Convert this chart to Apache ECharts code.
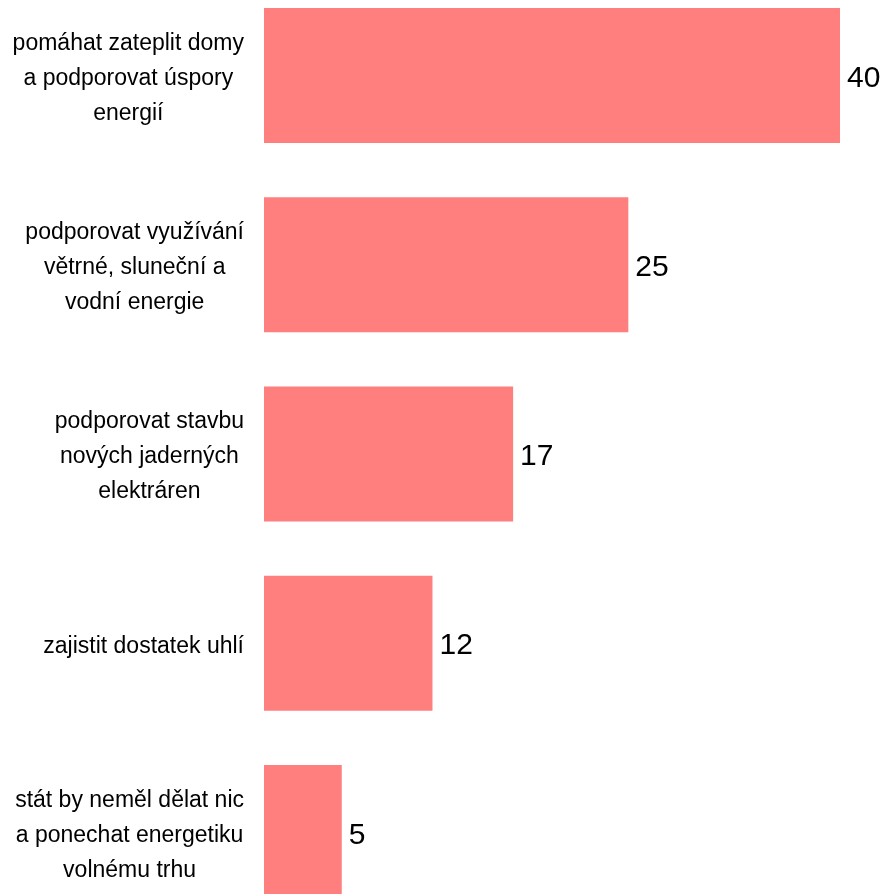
<!DOCTYPE html>
<html>
<head>
<meta charset="utf-8">
<script src="https://cdn.jsdelivr.net/npm/echarts@6/dist/echarts.min.js"></script>
<style>
html,body{margin:0;padding:0;background:#fff;}
#chart{width:884px;height:894px;}
</style>
</head>
<body>
<div id="chart"></div>
<script>
var categories = [
  "pomáhat zateplit domy\na podporovat úspory\nenergií",
  "podporovat využívání\nvětrné, sluneční a\nvodní energie",
  "podporovat stavbu\nnových jaderných\nelektráren",
  "zajistit dostatek uhlí",
  "stát by neměl dělat nic\na ponechat energetiku\nvolnému trhu"
];
var values = [40, 25.3, 17.3, 11.7, 5.4];
var xMax = 40;

var FONT = "'Liberation Sans', Arial, sans-serif";
var chart = echarts.init(document.getElementById('chart'), null, {renderer: 'canvas'});
chart.setOption({
  backgroundColor: '#ffffff',
  animation: false,
  grid: {left: 264, width: 576, top: -19, height: 946, containLabel: false, outerBoundsMode: 'none'},
  xAxis: {
    type: 'value', min: 0, max: xMax, show: false
  },
  yAxis: {
    type: 'category', data: categories, inverse: true,
    axisLine: {show: false}, axisTick: {show: false}, splitLine: {show: false},
    axisLabel: {
      margin: 20,
      color: '#000',
      fontFamily: FONT,
      fontSize: 23,
      lineHeight: 35,
      padding: [6, 0, 0, 0],
      formatter: function (v) {
        return v.split('\n').map(function (l) { return '{c|' + l + '}'; }).join('\n');
      },
      rich: {
        c: {align: 'center', fontSize: 23, lineHeight: 35, color: '#000', fontFamily: FONT}
      }
    }
  },
  series: [{
    type: 'bar',
    data: values,
    barWidth: 135,
    itemStyle: {color: '#FF7F7F'},
    label: {
      show: true, position: 'right', distance: 7, offset: [0, 3],
      color: '#000', fontSize: 30,
      fontFamily: FONT,
      formatter: function (p) { return Math.round(p.value); }
    }
  }]
});
</script>
</body>
</html>
